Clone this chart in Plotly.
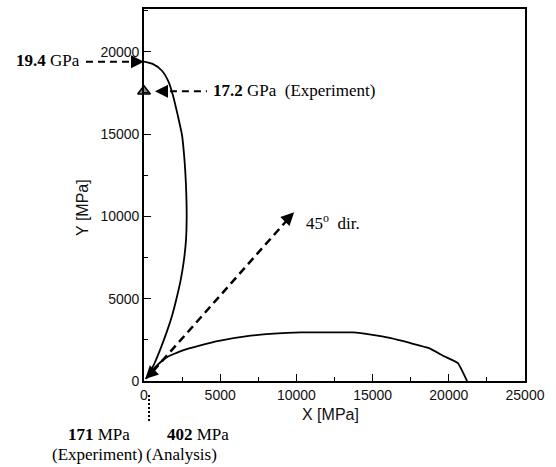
import plotly.graph_objects as go

# ---- data ----
# failure envelope close to the Y axis (MPa)
y_env_x = [0, 600, 1180, 1600, 1900, 2200, 2500, 2650, 2750, 2800, 2750, 2600, 2400, 2130, 1850, 1500, 1100, 650, 300, 130]
y_env_y = [19400, 19250, 18850, 18200, 17350, 16200, 14900, 13500, 12000, 10000, 8500, 7200, 6100, 5000, 4000, 3000, 2000, 1000, 400, 130]

# failure envelope close to the X axis (MPa)
x_env_x = [130, 400, 800, 1500, 2500, 3700, 5000, 7000, 8500, 10300, 12000, 13700, 15000, 16200, 17500, 18700, 19700, 20600, 21200]
x_env_y = [130, 500, 900, 1450, 1850, 2170, 2450, 2750, 2880, 2950, 2960, 2950, 2800, 2600, 2300, 2000, 1500, 1090, 0]

# experiment point on the Y axis
exp_y_x = [0]
exp_y_y = [17600]

# 45 degree direction arrow
dir45_x = [600, 9500]
dir45_y = [600, 9890]
dir45_tip = (9850, 10250)

Y_STRENGTH = 19400      # 19.4 GPa analysis
Y_EXP_ARROW_X = 720     # arrow tip next to experiment marker
BOTTOM_ARROW_X = 330

X_RANGE = [0, 25000]
Y_RANGE = [0, 22600]

W, H = 556, 467
L, R, T, B = 144, 31, 7, 86
PW, PH = W - L - R, H - T - B

def px(xpix):
    return (xpix - L) / PW

def py(ypix):
    return (H - B - ypix) / PH

serif = "Liberation Serif"
sans = "Liberation Sans"

fig = go.Figure()

fig.add_trace(go.Scatter(x=y_env_x, y=y_env_y, mode="lines",
                         line=dict(color="black", width=1.8, shape="spline", smoothing=0.6),
                         hoverinfo="skip"))
fig.add_trace(go.Scatter(x=x_env_x, y=x_env_y, mode="lines",
                         line=dict(color="black", width=1.8, shape="spline", smoothing=0.3),
                         hoverinfo="skip"))
fig.add_trace(go.Scatter(x=dir45_x, y=dir45_y, mode="lines",
                         line=dict(color="black", width=2.5, dash="8px,5px"), hoverinfo="skip"))
fig.add_trace(go.Scatter(x=exp_y_x, y=exp_y_y, mode="markers", cliponaxis=False,
                         marker=dict(symbol="triangle-up", size=11, color="#888",
                                     line=dict(color="black", width=1.5)), hoverinfo="skip"))

shapes = [
    # 19.4 GPa dashed lead
    dict(type="line", xref="x domain", yref="y", x0=px(86), x1=px(131),
         y0=Y_STRENGTH, y1=Y_STRENGTH, line=dict(color="black", width=2, dash="7px,5px")),
    # 17.2 GPa dashed lead
    dict(type="line", xref="x", yref="y", x0=1700, x1=4130,
         y0=exp_y_y[0], y1=exp_y_y[0], line=dict(color="black", width=2, dash="7px,5px")),
    # bottom dotted lead
    dict(type="line", xref="x", yref="paper", x0=BOTTOM_ARROW_X, x1=BOTTOM_ARROW_X,
         y0=py(395), y1=py(423), line=dict(color="black", width=2, dash="2px,2px")),
]

def head(x, y, ax, ay, xref="x", yref="y"):
    return dict(x=x, y=y, xref=xref, yref=yref, ax=ax, ay=ay, text="",
                showarrow=True, arrowhead=2, arrowsize=1.3, arrowwidth=2,
                arrowcolor="black", standoff=0)

annotations = [
    head(0, Y_STRENGTH, -14, 0),
    head(Y_EXP_ARROW_X, exp_y_y[0], 14, 0),
    head(dir45_tip[0], dir45_tip[1], -10, 10),
    head(80, 120, 10, -10),
    head(BOTTOM_ARROW_X, -120, 0, 14),
    dict(x=px(82), y=py(59), xref="paper", yref="paper", xanchor="right", yanchor="middle",
         text="<b>19.4</b> GPa", showarrow=False, font=dict(family=serif, size=17, color="black")),
    dict(x=px(211), y=py(89), xref="paper", yref="paper", xanchor="left", yanchor="middle",
         text="<b>17.2</b> GPa  (Experiment)", showarrow=False, font=dict(family=serif, size=17, color="black")),
    dict(x=px(304), y=py(221), xref="paper", yref="paper", xanchor="left", yanchor="middle",
         text="45<sup>o</sup>  dir.", showarrow=False, font=dict(family=serif, size=17, color="black")),
    dict(x=px(99), y=py(435), xref="paper", yref="paper", xanchor="center", yanchor="middle",
         text="<b>171</b> MPa", showarrow=False, font=dict(family=serif, size=17, color="black")),
    dict(x=px(97), y=py(455), xref="paper", yref="paper", xanchor="center", yanchor="middle",
         text="(Experiment)", showarrow=False, font=dict(family=serif, size=17, color="black")),
    dict(x=px(198), y=py(435), xref="paper", yref="paper", xanchor="center", yanchor="middle",
         text="<b>402</b> MPa", showarrow=False, font=dict(family=serif, size=17, color="black")),
    dict(x=px(181), y=py(455), xref="paper", yref="paper", xanchor="center", yanchor="middle",
         text="(Analysis)", showarrow=False, font=dict(family=serif, size=17, color="black")),
    # axis titles
    dict(x=px(330), y=py(415), xref="paper", yref="paper", xanchor="center", yanchor="middle",
         text="X [MPa]", showarrow=False, font=dict(family=sans, size=16, color="#111")),
    dict(x=px(83), y=py(207), xref="paper", yref="paper", xanchor="center", yanchor="middle",
         text="Y [MPa]", textangle=-90, showarrow=False, font=dict(family=sans, size=16, color="#111")),
]

axis_common = dict(showline=True, linecolor="black", linewidth=1.6, mirror=True,
                   ticks="inside", ticklen=7, tickwidth=1.3, tickcolor="black",
                   showgrid=False, zeroline=False, tickformat="d",
                   tickfont=dict(family=sans, size=14, color="#111"),
                   minor=dict(ticks="inside", ticklen=4, tickwidth=1.2, tickcolor="black", dtick=2500))

fig.update_layout(
    width=W, height=H, margin=dict(l=L, r=R, t=T, b=B),
    paper_bgcolor="white", plot_bgcolor="white", showlegend=False,
    xaxis=dict(range=X_RANGE, dtick=5000, **axis_common),
    yaxis=dict(range=Y_RANGE, dtick=5000, **axis_common),
    shapes=shapes, annotations=annotations,
)

fig.write_html("out.html")
